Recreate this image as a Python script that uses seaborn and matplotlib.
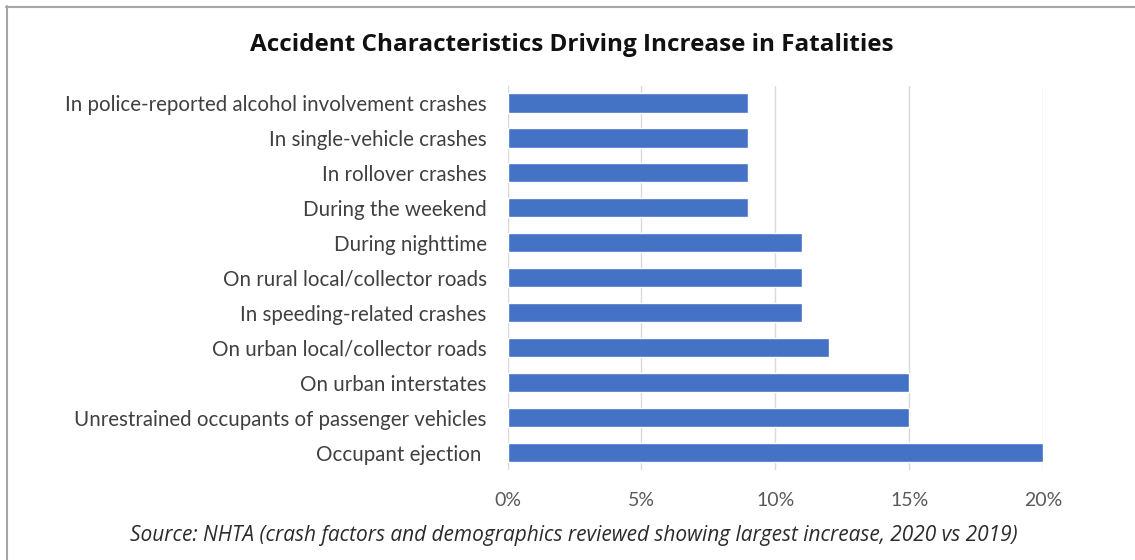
import matplotlib
matplotlib.use("Agg")
import matplotlib.pyplot as plt
import seaborn as sns
import pandas as pd
from matplotlib.lines import Line2D

categories = [
    "In police-reported alcohol involvement crashes",
    "In single-vehicle crashes",
    "In rollover crashes",
    "During the weekend",
    "During nighttime",
    "On rural local/collector roads",
    "In speeding-related crashes",
    "On urban local/collector roads",
    "On urban interstates",
    "Unrestrained occupants of passenger vehicles",
    "Occupant ejection ",
]
values = [9, 9, 9, 9, 11, 11, 11, 12, 15, 15, 20]
tick_values = [0, 5, 10, 15, 20]
tick_labels = ["0%", "5%", "10%", "15%", "20%"]
title = "Accident Characteristics Driving Increase in Fatalities"
source = "Source: NHTA (crash factors and demographics reviewed showing largest increase, 2020 vs 2019)"

sns.set_theme(style="white")
df = pd.DataFrame({"cat": categories, "val": values})

W, H = 1135, 560
fig = plt.figure(figsize=(W / 100, H / 100), dpi=100)
ax = fig.add_axes([507.5 / W, 1 - 470 / H, (1043 - 507.5) / W, (470 - 85.5) / H])

sns.barplot(data=df, x="val", y="cat", color="#4472C4", saturation=1, width=0.55, ax=ax, orient="h")
ax.set_xlim(0, 20)
ax.set_ylim(len(categories) - 0.5, -0.5)
ax.set_xticks(tick_values)
ax.set_xticklabels(tick_labels)
ax.set_xlabel("")
ax.set_ylabel("")
for s in ax.spines.values():
    s.set_visible(False)
ax.grid(axis="x", color="#d9d9d9", linewidth=1)
ax.set_axisbelow(True)
ax.tick_params(axis="x", length=0, pad=16, labelsize=14, labelcolor="#595959")
ax.tick_params(axis="y", length=0, pad=15, labelsize=14.8, labelcolor="#404040")
for lab in ax.get_xticklabels() + ax.get_yticklabels():
    lab.set_fontfamily("Lato")

fig.text(572 / W, 1 - 45 / H, title, ha="center", va="center", fontsize=17.5,
         fontweight="bold", family="Open Sans", color="#111111")
fig.text(573.5 / W, 1 - 535 / H, source, ha="center", va="center", fontsize=15,
         style="italic", family="Open Sans", color="#2b2b2b")

fig.add_artist(Line2D([6 / W, 1], [1 - 6.5 / H, 1 - 6.5 / H], transform=fig.transFigure,
                      color="#a6a6a6", linewidth=1.5))
fig.add_artist(Line2D([6.5 / W, 6.5 / W], [0, 1 - 6 / H], transform=fig.transFigure,
                      color="#a6a6a6", linewidth=1.5))

fig.savefig("out.png", dpi=100)
